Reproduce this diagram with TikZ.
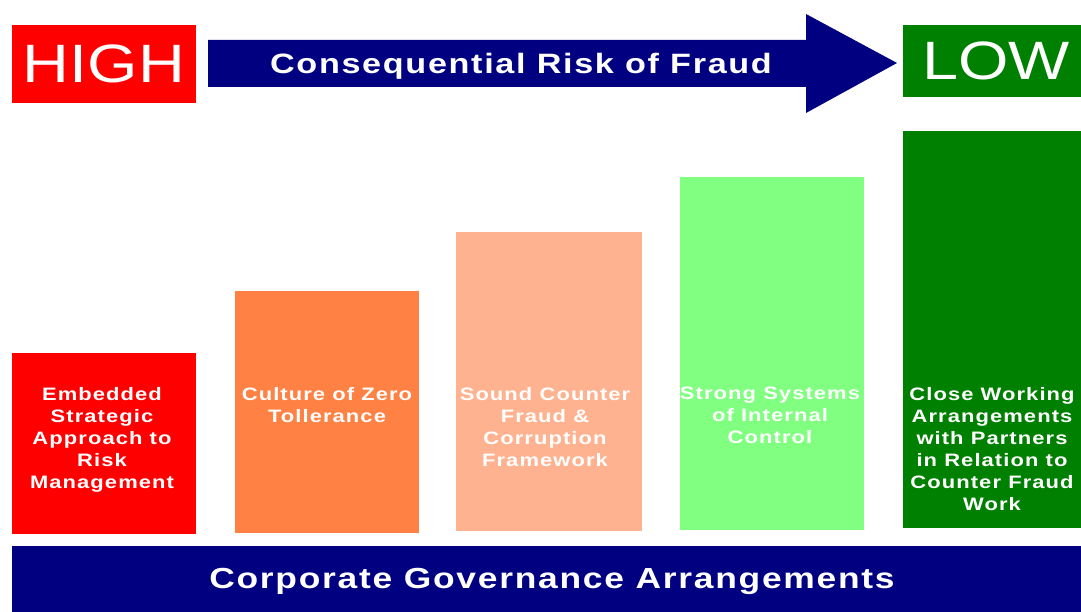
\documentclass[tikz,border=0pt]{standalone}
\usepackage{fontspec}
\setmainfont{Liberation Sans}
\newfontfamily\headfont[FakeStretch=1.2]{Liberation Sans}
\newfontfamily\widefont[FakeStretch=1.22,LetterSpace=6]{Liberation Sans Bold}
\definecolor{fraudnavy}{RGB}{0,0,128}
\definecolor{fraudred}{RGB}{255,0,0}
\definecolor{fraudorange}{RGB}{255,129,67}
\definecolor{fraudpeach}{RGB}{255,178,143}
\definecolor{fraudlight}{RGB}{128,255,128}
\definecolor{fraudgreen}{RGB}{0,128,0}

\tikzset{
  block/.style={anchor=north west, inner sep=0pt, outer sep=0pt},
  bartext/.style={anchor=north, align=center, text=white, inner sep=0pt,
    font=\widefont\fontsize{18}{22}\selectfont},
  headtext/.style={text=white, font=\headfont\fontsize{54}{54}\selectfont}
}

\begin{document}
\begin{tikzpicture}[x=1pt, y=-1pt]
\useasboundingbox (0,0) rectangle (1081,612);

% top row
\node[block, fill=fraudred, minimum width=184pt, minimum height=78pt] (high) at (12,25) {};
\node[headtext] at (high.center) {HIGH};
\node[block, fill=fraudgreen, minimum width=178pt, minimum height=72pt] (low) at (903,25) {};
\node[headtext] at ([xshift=4pt]low.center) {LOW};
\fill[fraudnavy] (208,40) -- (806,40) -- (806,14) -- (897,63) -- (806,113) -- (806,87) -- (208,87) -- cycle;
\node[text=white, font=\widefont\fontsize{28}{28}\selectfont] (risk) at (521,66) {Consequential Risk of Fraud};

% bars
\node[block, fill=fraudred, minimum width=184pt, minimum height=181pt] (b1) at (12,353) {};
\node[block, fill=fraudorange, minimum width=184pt, minimum height=242pt] (b2) at (235,291) {};
\node[block, fill=fraudpeach, minimum width=186pt, minimum height=299pt] (b3) at (456,232) {};
\node[block, fill=fraudlight, minimum width=184pt, minimum height=353pt] (b4) at (680,177) {};
\node[block, fill=fraudgreen, minimum width=178pt, minimum height=397pt] (b5) at (903,131) {};

\node[bartext] at ([xshift=-2pt]b1.north |- 0,387) {Embedded\\Strategic\\Approach to\\Risk\\Management};
\node[bartext] at (b2.north |- 0,387) {Culture of Zero\\Tollerance};
\node[bartext] at ([xshift=-4pt]b3.north |- 0,387) {Sound Counter\\Fraud \&\\Corruption\\Framework};
\node[bartext] at ([xshift=-2pt]b4.north |- 0,387) {Strong Systems\\of Internal\\Control};
\node[bartext] at (b5.north |- 0,387) {Close Working\\Arrangements\\with Partners\\in Relation to\\Counter Fraud\\Work};

% base
\node[block, fill=fraudnavy, minimum width=1069pt, minimum height=66pt] (base) at (12,546) {};
\node[text=white, font=\widefont\fontsize{29}{29}\selectfont] at (552,581) {Corporate Governance Arrangements};
\end{tikzpicture}
\end{document}
